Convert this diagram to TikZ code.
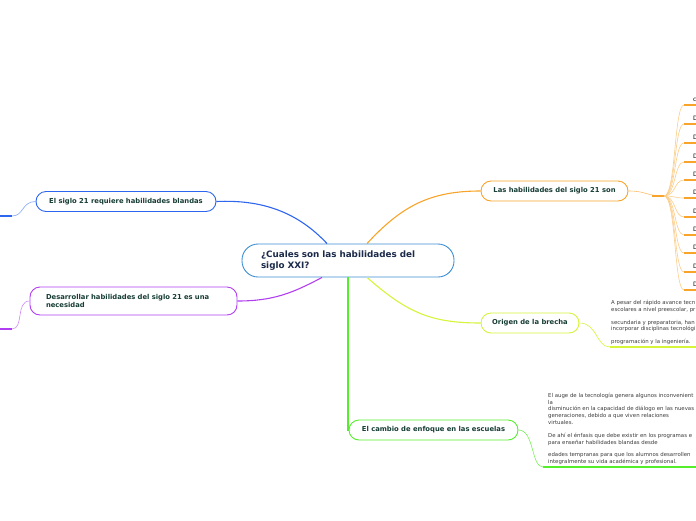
\documentclass[tikz,border=0pt]{standalone}
\usepackage{fontspec}
\setmainfont{DejaVu Sans}
\definecolor{mapink}{HTML}{173D35}
\definecolor{mapnavy}{HTML}{1B2A4A}
\definecolor{mapcenter}{HTML}{3D8FD4}
\definecolor{maporange}{HTML}{F8A42A}
\definecolor{mapblue}{HTML}{2E66F0}
\definecolor{mappurple}{HTML}{B23EF2}
\definecolor{mapyellow}{HTML}{D6F43A}
\definecolor{mapgreen}{HTML}{55EE2C}
\definecolor{mapgray}{RGB}{60,60,60}

\begin{document}
\begin{tikzpicture}[
    x=1pt, y=-1pt,
    centerbox/.style={
      rectangle, rounded corners=16pt,
      minimum height=33pt, text width=174pt, inner xsep=19pt,
      fill=white, draw=mapcenter, line width=0.9pt,
      text=mapnavy, font=\fontsize{8.8}{11}\selectfont\bfseries,
      align=left,
    },
    topic/.style={
      rectangle, rounded corners=10pt,
      minimum height=20pt, inner sep=2pt,
      fill=white, line width=0.9pt,
      text=mapink, font=\fontsize{6.8}{8.4}\selectfont\bfseries,
      align=center,
    },
    branch/.style={line width=1.1pt},
    twig/.style={line width=0.6pt},
    uline/.style={line width=1.6pt},
    note/.style={font=\fontsize{5.4}{6.8}\selectfont, text=mapgray,
      align=left, inner sep=0pt},
    leaftxt/.style={font=\fontsize{6}{7}\selectfont, text=black, inner sep=0pt},
  ]
  \useasboundingbox (0,0) rectangle (696,520);

  % ---- Central topic ----
  \node[centerbox] (central) at (348,260.5)
    {¿Cuales son las habilidades del\\siglo XXI?};

  % ---- Main topics ----
  \node[topic, draw=maporange, minimum width=147pt] (skills) at (554.5,191)
    {Las habilidades del siglo 21 son};
  \node[topic, draw=mapyellow, minimum width=98pt] (origin) at (530,323)
    {Origen de la brecha};
  \node[topic, draw=mapgreen, minimum width=169pt] (schools) at (433.5,430)
    {El cambio de enfoque en las escuelas};
  \node[topic, draw=mapblue, minimum width=180pt] (soft) at (126,201.5)
    {El siglo 21 requiere habilidades blandas};
  \node[topic, draw=mappurple, minimum height=28pt, text width=175pt,
        inner xsep=16pt, align=left] (need) at (133.5,301)
    {Desarrollar habilidades del siglo 21 es una\\necesidad};

  % ---- Branches from the centre ----
  \draw[branch, maporange] ([xshift=19pt]central.north)
    .. controls +(35,-38) and +(-50,0) .. (skills.west);
  \draw[branch, mapblue] ([xshift=-21pt]central.north)
    .. controls +(-30,-32) and +(45,-2) .. (soft.east);
  \draw[branch, mappurple] ([xshift=-26pt]central.south)
    .. controls +(-30,16) and +(35,0) .. (need.east);
  \draw[branch, mapyellow] ([xshift=19pt]central.south)
    .. controls +(40,35) and +(-50,0) .. (origin.west);
  \draw[branch, mapgreen] (central.south) -- (central.south |- schools.west)
    -- (schools.west);

  % ---- Skills list (right edge) ----
  \coordinate (fork) at (664,196);
  \draw[twig, maporange!70] (skills.east)
    .. controls +(18,0) and +(-18,0) .. (fork);
  \draw[uline, maporange] ([xshift=-12pt]fork) -- (fork);
  \foreach \yy/\lbl [count=\i] in {105/c,124/D,143/D,162/D,180/D,198/D,
                                   217/D,235/D,253/D,272/D,290/D} {
    \coordinate (lf\i) at (684,\yy);
    \draw[twig, maporange!55] (fork) .. controls +(12,0) and +(-10,0) .. (lf\i);
    \draw[uline, maporange] (lf\i) -- ++(14,0);
    \node[leaftxt, anchor=south west] (lt\i) at (693,\yy-3) {\lbl};
  }

  % ---- Origen de la brecha note ----
  \coordinate (originend) at (610,347);
  \draw[twig, mapyellow] (origin.east)
    .. controls +(18,0) and +(-14,0) .. (originend);
  \draw[uline, mapyellow] (originend) -- ++(90,0);
  \node[note, anchor=south west] (originnote) at (611,345)
    {A pesar del rápido avance tecn\\
     escolares a nivel preescolar, pr\\[6pt]
     secundaria y preparatoria, han\\
     incorporar disciplinas tecnológi\\[6pt]
     programación y la ingeniería.};

  % ---- El cambio de enfoque note ----
  \coordinate (schoolsend) at (543,467);
  \draw[twig, mapgreen!80] (schools.east)
    .. controls +(16,0) and +(-12,0) .. (schoolsend);
  \draw[uline, mapgreen] (schoolsend) -- ++(157,0);
  \node[note, anchor=south west] (schoolsnote) at (548,465)
    {El auge de la tecnología genera algunos inconvenient\\
     la\\
     disminución en la capacidad de diálogo en las nuevas\\
     generaciones, debido a que viven relaciones\\
     virtuales.\\[6pt]
     De ahí el énfasis que debe existir en los programas e\\
     para enseñar habilidades blandas desde\\[6pt]
     edades tempranas para que los alumnos desarrollen\\
     integralmente su vida académica y profesional.};

  % ---- Left stubs ----
  \coordinate (softend) at (12,216);
  \draw[twig, mapblue!60] (soft.west)
    .. controls +(-14,0) and +(12,0) .. (softend);
  \draw[uline, mapblue] (softend) -- ++(-14,0);
  \coordinate (needend) at (12,329);
  \draw[twig, mappurple!60] (need.west)
    .. controls +(-14,0) and +(12,0) .. (needend);
  \draw[uline, mappurple] (needend) -- ++(-14,0);

\end{tikzpicture}
\end{document}
